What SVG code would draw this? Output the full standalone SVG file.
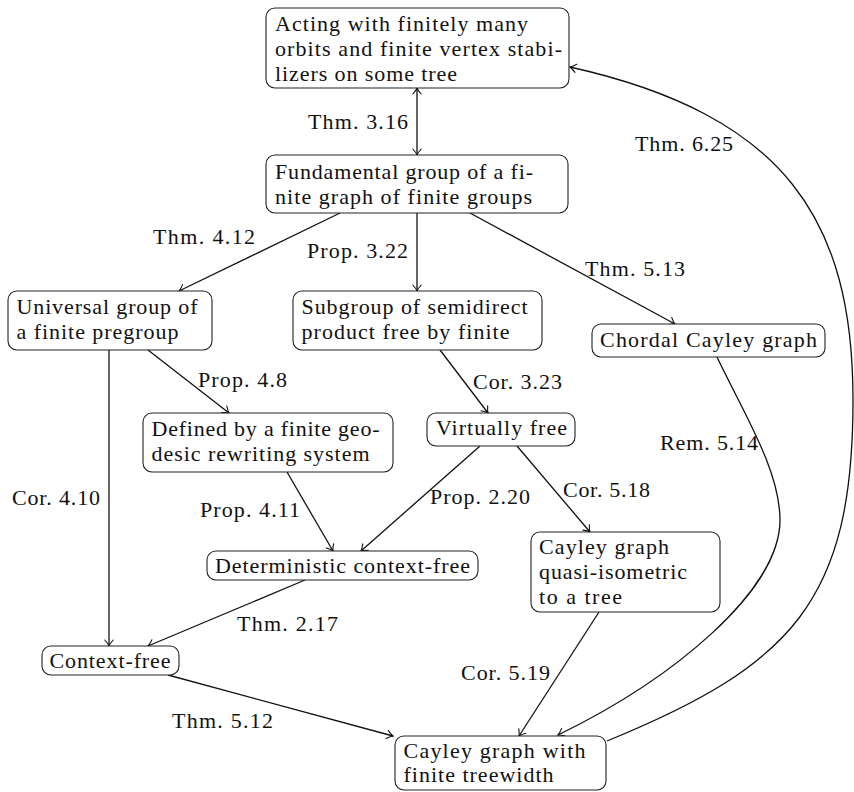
<svg xmlns="http://www.w3.org/2000/svg" width="854" height="792" viewBox="0 0 854 792">
<style>
.node rect{fill:#fff;stroke:#222;stroke-width:1.1}
text{font-family:'Liberation Serif','DejaVu Serif',serif;font-size:22px;fill:#111}
.lbl{text-anchor:middle}
.edges path,.edges line{fill:none;stroke:#111;stroke-width:1.3}
</style>
<defs>
<marker id="arr" markerUnits="userSpaceOnUse" markerWidth="14" markerHeight="14" refX="0" refY="0" viewBox="-8 -7 10 14" orient="auto-start-reverse" overflow="visible">
<path d="M-6,-4.2 Q-2.2,-0.8 0,0 Q-2.2,0.8 -6,4.2" fill="none" stroke="#111" stroke-width="1.1" stroke-linecap="round"/>
</marker>
</defs>
<rect width="854" height="792" fill="#fff"/>
<g class="edges">
<line x1="417" y1="88" x2="417" y2="155" marker-start="url(#arr)" marker-end="url(#arr)"/>
<line x1="340" y1="213" x2="179" y2="291" marker-end="url(#arr)"/>
<line x1="417" y1="213" x2="417" y2="291" marker-end="url(#arr)"/>
<line x1="470" y1="213" x2="675" y2="324" marker-end="url(#arr)"/>
<line x1="148" y1="350" x2="229" y2="413" marker-end="url(#arr)"/>
<line x1="109" y1="350" x2="109" y2="646" marker-end="url(#arr)"/>
<line x1="440" y1="350" x2="488" y2="413" marker-end="url(#arr)"/>
<line x1="287" y1="472" x2="333" y2="551" marker-end="url(#arr)"/>
<line x1="480" y1="446" x2="361" y2="551" marker-end="url(#arr)"/>
<line x1="517" y1="446" x2="590" y2="532" marker-end="url(#arr)"/>
<line x1="305" y1="580" x2="148" y2="646" marker-end="url(#arr)"/>
<line x1="599" y1="612" x2="519" y2="736" marker-end="url(#arr)"/>
<line x1="168" y1="675" x2="393" y2="736" marker-end="url(#arr)"/>
<path d="M717,357 C743,412 780,470 780,520 C780,590 675,678 558,735" marker-end="url(#arr)"/>
<path d="M607,741 C793,665 853,600 853,400 C853,220 785,115 570,67" marker-end="url(#arr)"/>
</g>
<g class="labels">
<text class="lbl" x="358" y="129" textLength="100">Thm. 3.16</text>
<text class="lbl" x="204" y="244" textLength="102">Thm. 4.12</text>
<text class="lbl" x="357.5" y="258" textLength="101">Prop. 3.22</text>
<text class="lbl" x="635" y="276" textLength="100">Thm. 5.13</text>
<text class="lbl" x="242.5" y="387" textLength="89">Prop. 4.8</text>
<text class="lbl" x="517.5" y="389" textLength="89">Cor. 3.23</text>
<text class="lbl" x="709" y="450" textLength="98">Rem. 5.14</text>
<text class="lbl" x="56" y="505" textLength="88">Cor. 4.10</text>
<text class="lbl" x="250" y="517" textLength="100">Prop. 4.11</text>
<text class="lbl" x="480" y="504" textLength="100">Prop. 2.20</text>
<text class="lbl" x="606.5" y="497" textLength="87">Cor. 5.18</text>
<text class="lbl" x="287.5" y="631" textLength="101">Thm. 2.17</text>
<text class="lbl" x="505.5" y="680" textLength="89">Cor. 5.19</text>
<text class="lbl" x="222.5" y="728" textLength="101">Thm. 5.12</text>
<text class="lbl" x="684" y="151" textLength="98">Thm. 6.25</text>
</g>
<g id="n1" class="node"><rect x="266" y="8" width="303" height="80" rx="9"/>
<text x="275" y="31" textLength="253">Acting with finitely many</text>
<text x="275" y="56" textLength="287">orbits and finite vertex stabi-</text>
<text x="275" y="81" textLength="182">lizers on some tree</text></g>
<g id="n2" class="node"><rect x="266" y="155" width="302" height="58" rx="9"/>
<text x="275" y="179" textLength="258">Fundamental group of a fi-</text>
<text x="275" y="204" textLength="257">nite graph of finite groups</text></g>
<g id="n3" class="node"><rect x="8" y="291" width="204" height="59" rx="9"/>
<text x="16.5" y="314" textLength="181">Universal group of</text>
<text x="16.5" y="339" textLength="162">a finite pregroup</text></g>
<g id="n4" class="node"><rect x="293" y="291" width="249" height="59" rx="9"/>
<text x="301.5" y="314" textLength="226">Subgroup of semidirect</text>
<text x="301.5" y="339" textLength="208">product free by finite</text></g>
<g id="n5" class="node"><rect x="592" y="324" width="233" height="33" rx="9"/>
<text x="600" y="347" textLength="217">Chordal Cayley graph</text></g>
<g id="n6" class="node"><rect x="143" y="413" width="250" height="59" rx="9"/>
<text x="151.5" y="436" textLength="228">Defined by a finite geo-</text>
<text x="151.5" y="461" textLength="218">desic rewriting system</text></g>
<g id="n7" class="node"><rect x="427" y="413" width="148" height="33" rx="9"/>
<text x="436" y="435" textLength="131">Virtually free</text></g>
<g id="n8" class="node"><rect x="207" y="551" width="271" height="29" rx="9"/>
<text x="215" y="573" textLength="255">Deterministic context-free</text></g>
<g id="n9" class="node"><rect x="531" y="532" width="189" height="80" rx="9"/>
<text x="539" y="554" textLength="130">Cayley graph</text>
<text x="539" y="579" textLength="148">quasi-isometric</text>
<text x="539" y="604" textLength="83">to a tree</text></g>
<g id="n10" class="node"><rect x="42" y="646" width="137" height="29" rx="9"/>
<text x="49.5" y="668" textLength="121">Context-free</text></g>
<g id="n11" class="node"><rect x="395" y="736" width="211" height="54" rx="9"/>
<text x="403.5" y="758" textLength="182">Cayley graph with</text>
<text x="403.5" y="782" textLength="150">finite treewidth</text></g>
</svg>
